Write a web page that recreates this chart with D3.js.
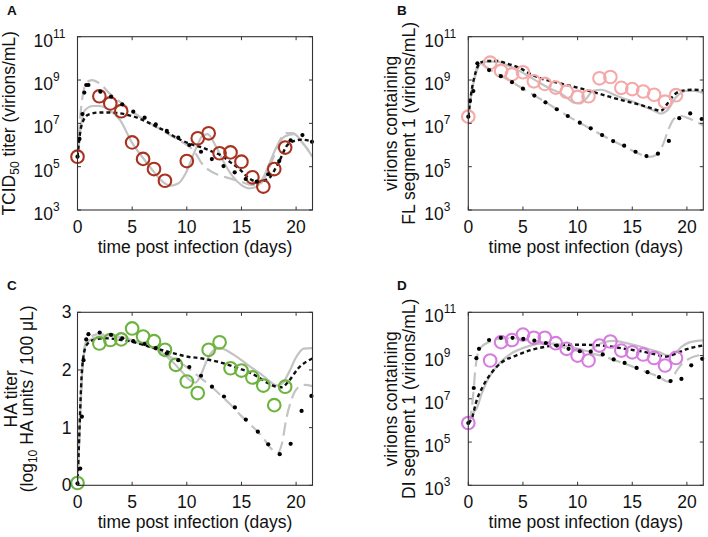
<!DOCTYPE html>
<html><head><meta charset="utf-8">
<script src="https://cdn.jsdelivr.net/npm/d3@7"></script>
<style>body{margin:0;background:#fff}svg{display:block}text{font-family:"Liberation Sans",Arial,sans-serif;fill:#111}</style>
</head><body><svg id="c" width="708" height="537"></svg>
<script>
// ---------- data ----------
const xTicks = [0, 5, 10, 15, 20];
const logTicks = [3, 5, 7, 9, 11];
const linTicks = [0, 1, 2, 3];

const daysA = [0,2,3,4,5,6,7,8,10,11,12,13,14,15,16,17,18,19];
const obsA  = [5.46,8.25,7.92,7.56,6.12,5.36,4.89,4.35,5.26,6.31,6.54,5.62,5.66,5.23,4.51,4.08,4.89,5.88];
const daysBCD = [0,2,3,4,5,6,7,8,9,10,11,12,13,14,15,16,17,18,19];
const obsB = [7.31,9.8,9.42,9.26,9.36,8.94,8.82,8.65,8.46,8.22,8.25,9.08,9.14,8.64,8.58,8.47,8.32,8.0,8.3];
const obsC = [0.04,2.46,2.52,2.53,2.72,2.58,2.5,2.35,2.09,1.8,1.6,2.35,2.48,2.03,1.99,1.87,1.73,1.39,1.71];
const obsD = [5.88,8.77,9.62,9.72,9.97,9.82,9.82,9.57,9.31,9.0,8.77,9.46,9.65,9.23,9.15,9.05,8.89,8.54,8.89];

const aGraySolid = [[0,5.46],[0.3,6.8],[0.67,7.6],[1.4,7.8],[2.0,7.8],[2.9,7.62],[3.9,7.15],[5.0,6.1],[6.0,5.4],[7.0,4.75],[7.8,4.3],[8.5,4.12],[9.2,4.22],[9.9,4.7],[10.8,5.8],[11.4,6.4],[11.9,6.5],[12.7,5.9],[13.5,5.1],[14.2,4.55],[15.0,4.15],[15.7,4.0],[16.3,4.05],[17.0,4.5],[17.6,5.2],[18.2,5.9],[19.0,6.4],[19.8,6.5],[20.6,6.1],[21.5,5.45]];
const aGrayDash = [[0,5.46],[0.2,7.0],[0.45,8.2],[0.8,8.85],[1.3,9.0],[2.0,8.85],[3.0,8.35],[4.0,7.95],[5.0,7.55],[6.0,7.2],[7.0,6.9],[8.0,6.6],[9.0,6.3],[10.0,6.0],[10.7,5.7],[11.3,5.2],[12.0,4.85],[13.0,4.6],[14.0,4.45],[15.0,4.3],[16.0,4.15],[16.7,4.2],[17.3,4.65],[17.9,5.4],[18.5,6.2],[19.1,6.55],[19.7,6.55],[20.5,6.15],[21.5,5.5]];
const aBlackDash = [[0,5.46],[0.25,6.6],[0.6,7.2],[1.0,7.4],[2.0,7.5],[3.0,7.5],[4.5,7.4],[6.0,7.15],[7.0,6.9],[8.0,6.65],[9.2,6.3],[10.3,6.05],[11.3,5.9],[12.3,5.7],[13.2,5.5],[14.0,5.2],[14.8,4.9],[15.6,4.5],[16.5,4.3],[17.5,4.46],[18.4,5.2],[19.3,6.05],[20.5,6.25],[21.5,6.15]];
const aDots = [[0,5.46],[0.18,6.28],[0.45,7.43],[0.62,8.42],[0.8,8.77],[1.0,8.77],[2.09,8.46],[3.07,8.23],[4.09,7.88],[5.1,7.54],[6.14,7.26],[7.16,6.95],[8.17,6.65],[9.22,6.34],[10.23,6.0],[11.3,5.69],[12.29,5.35],[13.36,5.03],[14.38,4.74],[15.39,4.43],[16.4,4.31],[17.45,4.65],[18.46,5.26],[19.5,6.22],[20.58,6.46],[21.45,6.15]];

const bGraySolid = [[0,7.31],[0.3,8.4],[0.7,9.3],[1.1,9.75],[1.8,9.85],[2.6,9.85],[3.5,9.7],[4.75,9.4],[5.6,9.15],[6.6,8.85],[7.5,8.6],[8.4,8.4],[9.1,8.15],[9.6,7.97],[10.2,7.92],[10.8,8.15],[11.4,8.5],[12.2,8.55],[13.2,8.35],[14.2,8.15],[15.1,8.0],[16.0,7.8],[16.9,7.6],[17.6,7.45],[18.2,7.6],[19.0,8.2],[19.9,8.5],[20.7,8.5],[21.5,8.4]];
const bGrayDash = [[0,7.31],[0.15,8.03],[0.45,8.8],[0.8,9.6],[1.1,9.75],[1.9,9.5],[3.0,9.2],[4.0,8.9],[5.0,8.6],[6.0,8.3],[7.0,8.0],[8.0,7.68],[9.0,7.37],[10.0,7.08],[11.0,6.8],[12.0,6.52],[13.0,6.25],[14.0,6.0],[15.0,5.75],[16.0,5.52],[16.6,5.45],[17.2,5.55],[17.8,6.0],[18.3,6.7],[18.8,7.2],[19.4,7.35],[20.3,7.2],[21.5,6.9]];
const bBlackDash = [[0,7.31],[0.3,8.5],[0.7,9.4],[1.1,9.8],[1.8,9.88],[2.6,9.88],[3.6,9.75],[4.75,9.54],[5.6,9.3],[6.6,9.08],[7.8,8.92],[9.0,8.77],[10.8,8.54],[12.9,8.23],[14.2,8.05],[15.4,7.9],[16.4,7.75],[17.0,7.65],[17.6,7.58],[18.2,7.9],[18.8,8.3],[19.5,8.5],[20.5,8.55],[21.5,8.52]];
const bDots = [[0,7.31],[0.15,8.03],[0.46,8.49],[0.83,9.77],[1.9,9.46],[2.98,9.18],[4.0,8.9],[5.0,8.6],[6.04,8.28],[7.06,7.97],[8.1,7.65],[9.1,7.34],[10.2,7.03],[11.2,6.77],[12.24,6.46],[13.25,6.18],[14.26,5.97],[15.3,5.69],[16.3,5.49],[17.35,5.6],[18.35,6.19],[19.3,7.24],[20.3,7.46],[21.35,7.2]];

const cGraySolid = [[0,0],[0.2,1.0],[0.45,2.0],[0.7,2.4],[1.0,2.5],[2.0,2.58],[3.0,2.6],[4.0,2.57],[5.0,2.52],[6.0,2.46],[7.0,2.38],[8.0,2.26],[8.8,2.12],[9.6,1.96],[10.3,1.82],[10.8,1.78],[11.3,1.92],[11.8,2.15],[12.4,2.33],[13.0,2.38],[14.0,2.3],[15.0,2.17],[16.0,2.03],[16.8,1.93],[17.6,1.8],[18.3,1.73],[18.8,1.78],[19.4,1.98],[20.0,2.22],[20.7,2.37],[21.5,2.38]];
const cGrayDash = [[0,0],[0.2,1.0],[0.45,2.05],[0.7,2.45],[1.0,2.55],[2.0,2.62],[3.0,2.6],[4.0,2.56],[5.0,2.5],[6.0,2.44],[7.0,2.37],[8.0,2.28],[9.0,2.17],[10.0,2.05],[11.0,1.9],[12.0,1.75],[13.0,1.58],[14.0,1.4],[15.0,1.2],[16.0,1.02],[17.0,0.82],[17.7,0.64],[18.3,0.56],[18.7,0.72],[19.1,1.15],[19.6,1.5],[20.2,1.7],[20.8,1.74],[21.5,1.72]];
const cBlackDash = [[0,0],[0.15,0.8],[0.35,1.8],[0.6,2.3],[0.9,2.45],[1.5,2.52],[2.5,2.55],[4.0,2.52],[5.0,2.49],[6.1,2.43],[7.2,2.37],[8.2,2.32],[9.2,2.27],[10.1,2.23],[11.0,2.21],[11.9,2.18],[12.9,2.14],[13.8,2.09],[14.7,2.03],[15.6,1.97],[16.5,1.88],[17.45,1.77],[18.2,1.71],[18.7,1.7],[19.3,1.8],[20.2,2.03],[21.5,2.2]];
const cDots = [[0,0.03],[0.25,0.29],[0.4,1.19],[0.55,2.17],[0.8,2.53],[1.0,2.62],[2.03,2.65],[3.07,2.61],[4.09,2.55],[5.1,2.5],[6.14,2.45],[7.16,2.38],[8.17,2.29],[9.22,2.17],[10.23,2.05],[11.3,1.9],[12.3,1.71],[13.4,1.54],[14.4,1.35],[15.4,1.14],[16.5,0.93],[17.45,0.71],[18.5,0.54],[19.5,0.72],[20.5,1.29],[21.4,1.55]];

const dGraySolid = [[0,5.88],[0.4,6.3],[0.8,6.6],[1.2,7.2],[1.7,7.8],[2.6,8.5],[3.8,9.05],[5.3,9.4],[6.6,9.55],[7.8,9.55],[9.0,9.45],[10.2,9.3],[11.0,9.2],[11.6,9.4],[12.3,9.6],[13.2,9.68],[14.3,9.6],[15.4,9.46],[16.5,9.3],[17.5,9.15],[18.3,9.0],[18.9,9.1],[19.5,9.4],[20.3,9.62],[21.5,9.7]];
const dGrayDash = [[0,5.88],[0.25,6.3],[0.45,7.2],[0.65,8.4],[0.85,9.05],[1.2,9.4],[1.8,9.6],[3.0,9.78],[4.0,9.8],[5.0,9.77],[6.0,9.69],[7.1,9.58],[8.1,9.46],[9.2,9.31],[10.2,9.2],[11.2,9.1],[12.3,8.98],[13.3,8.8],[14.3,8.63],[15.4,8.42],[16.4,8.22],[17.4,8.02],[18.2,7.8],[18.5,7.78],[19.0,8.25],[19.6,8.65],[20.3,8.88],[21.5,9.05]];
const dBlackDash = [[0,5.88],[0.37,6.15],[0.67,6.77],[1.3,7.54],[2.2,8.25],[3.1,8.7],[4.36,9.0],[5.9,9.28],[7.0,9.4],[8.0,9.48],[10.2,9.5],[12.0,9.47],[13.5,9.38],[14.5,9.3],[16.3,9.15],[17.3,9.03],[18.0,8.95],[18.8,9.05],[20.0,9.3],[21.5,9.47]];
const dDots = [[0,5.88],[0.5,7.5],[0.74,8.88],[0.98,9.31],[1.9,9.72],[2.98,9.82],[4.05,9.82],[5.03,9.77],[6.04,9.69],[7.1,9.58],[8.1,9.46],[9.17,9.31],[10.2,9.2],[11.2,9.18],[12.3,9.05],[13.3,8.82],[14.3,8.66],[15.4,8.43],[16.4,8.23],[17.45,8.0],[18.5,7.82],[19.5,7.92],[20.4,8.55],[21.4,8.85]];

// ---------- drawing ----------
const svg = d3.select("#c");
const panels = [
  {id:"A", letterX:7, letterY:15, x0:77.5, x1:312.5, y0:36.7, y1:210, log:true,
   days:daysA, obs:obsA, color:"#a8321f",
   lines:[aGraySolid,aGrayDash,aBlackDash], dots:aDots,
   ylab:[{x:15, t:"tcid"}]},
  {id:"B", letterX:397, letterY:15, x0:468.3, x1:703.3, y0:36.7, y1:210, log:true,
   days:daysBCD, obs:obsB, color:"#f4a9a8",
   lines:[bGraySolid,bGrayDash,bBlackDash], dots:bDots,
   ylab:[{x:397, t:"virions containing"},{x:415, t:"FL segment 1  (virions/mL)"}]},
  {id:"C", letterX:7, letterY:290, x0:77.5, x1:312.5, y0:312.3, y1:485.3, log:false,
   days:daysBCD, obs:obsC, color:"#6db33f",
   lines:[cGraySolid,cGrayDash,cBlackDash], dots:cDots,
   ylab:[{x:16.5, t:"HA titer"},{x:32.5, t:"ha"}]},
  {id:"D", letterX:397, letterY:290, x0:468.3, x1:703.3, y0:312.3, y1:485.3, log:true,
   days:daysBCD, obs:obsD, color:"#d67de0",
   lines:[dGraySolid,dGrayDash,dBlackDash], dots:dDots,
   ylab:[{x:397, t:"virions containing"},{x:415, t:"DI segment 1  (virions/mL)"}]}
];

const FS = 17.5;
const styles = [
  {stroke:"#c3c3c3", width:2.2, dash:null},
  {stroke:"#c3c3c3", width:2.2, dash:"13,6"},
  {stroke:"#111", width:2.4, dash:"4,3"}
];

panels.forEach((p, i) => {
  const g = svg.append("g");
  const x = d3.scaleLinear().domain([0, 21.5]).range([p.x0, p.x1]);
  const y = p.log
    ? d3.scaleLog().domain([1e3, 1e11]).range([p.y1, p.y0])
    : d3.scaleLinear().domain([0, 3]).range([p.y1, p.y0]);
  const Y = v => p.log ? y(Math.pow(10, v)) : y(v);

  const clipId = "clip" + i;
  g.append("clipPath").attr("id", clipId).append("rect")
    .attr("x", p.x0).attr("y", p.y0).attr("width", p.x1 - p.x0).attr("height", p.y1 - p.y0);
  const plot = g.append("g").attr("clip-path", `url(#${clipId})`);

  const line = d3.line().x(d => x(d[0])).y(d => Y(d[1])).curve(d3.curveMonotoneX);

  // gray model curves
  [0, 1].forEach(k => {
    const s = styles[k];
    plot.append("path").attr("d", line(p.lines[k])).attr("fill", "none")
      .attr("stroke", s.stroke).attr("stroke-width", s.width)
      .attr("stroke-dasharray", s.dash);
  });
  // observations (not clipped)
  g.selectAll("circle.obs").data(p.days.map((d, j) => [d, p.obs[j]])).join("circle")
    .attr("class", "obs").attr("cx", d => x(d[0])).attr("cy", d => Y(d[1])).attr("r", 6.3)
    .attr("fill", "none").attr("stroke", p.color).attr("stroke-width", 2.1);
  // black dashed
  plot.append("path").attr("d", line(p.lines[2])).attr("fill", "none")
    .attr("stroke", styles[2].stroke).attr("stroke-width", styles[2].width)
    .attr("stroke-dasharray", styles[2].dash);
  // black dots
  g.selectAll("circle.dot").data(p.dots).join("circle").attr("class", "dot")
    .attr("cx", d => x(d[0])).attr("cy", d => Y(d[1])).attr("r", 2.1).attr("fill", "#000");

  // frame + ticks (MATLAB box style, ticks inside)
  const fc = "#333";
  g.append("rect").attr("x", p.x0).attr("y", p.y0).attr("width", p.x1 - p.x0)
    .attr("height", p.y1 - p.y0).attr("fill", "none").attr("stroke", fc).attr("stroke-width", 1.1);
  const tl = 3.5;
  xTicks.forEach(t => {
    g.append("line").attr("x1", x(t)).attr("x2", x(t)).attr("y1", p.y1).attr("y2", p.y1 - tl).attr("stroke", fc);
    g.append("line").attr("x1", x(t)).attr("x2", x(t)).attr("y1", p.y0).attr("y2", p.y0 + tl).attr("stroke", fc);
    g.append("text").attr("x", x(t)).attr("y", p.y1 + 23).attr("text-anchor", "middle")
      .attr("font-size", FS).text(t);
  });
  const yt = p.log ? logTicks : linTicks;
  yt.forEach(t => {
    const yy = Y(t);
    g.append("line").attr("x1", p.x0).attr("x2", p.x0 + tl).attr("y1", yy).attr("y2", yy).attr("stroke", fc);
    g.append("line").attr("x1", p.x1).attr("x2", p.x1 - tl).attr("y1", yy).attr("y2", yy).attr("stroke", fc);
    if (p.log) {
      const tx = g.append("text").attr("x", p.x0 - 44).attr("y", yy + 10).attr("font-size", FS);
      tx.append("tspan").text("10");
      tx.append("tspan").attr("font-size", 12).attr("dy", -9).text(t);
    } else {
      g.append("text").attr("x", p.x0 - 6).attr("y", yy + 6).attr("text-anchor", "end")
        .attr("font-size", FS).text(t);
    }
  });

  // x label
  g.append("text").attr("x", (p.x0 + p.x1) / 2).attr("y", p.y1 + 43).attr("text-anchor", "middle")
    .attr("font-size", FS).text("time post infection (days)");

  // y label(s)
  const cy = (p.y0 + p.y1) / 2;
  p.ylab.forEach(L => {
    const t = g.append("text").attr("transform", `translate(${L.x},${cy}) rotate(-90)`)
      .attr("text-anchor", "middle").attr("font-size", FS);
    if (L.t === "tcid") {
      t.append("tspan").text("TCID");
      t.append("tspan").attr("font-size", 12).attr("dy", 4).text("50");
      t.append("tspan").attr("dy", -4).text(" titer (virions/mL)");
    } else if (L.t === "ha") {
      t.append("tspan").text("(log");
      t.append("tspan").attr("font-size", 12).attr("dy", 4).text("10");
      t.append("tspan").attr("dy", -4).text(" HA units / 100 \u03BCL)");
    } else {
      t.text(L.t);
    }
  });

  // panel letter
  svg.append("text").attr("x", p.letterX).attr("y", p.letterY).attr("font-size", 13.5)
    .attr("font-weight", "bold").text(p.id);
});
</script></body></html>
